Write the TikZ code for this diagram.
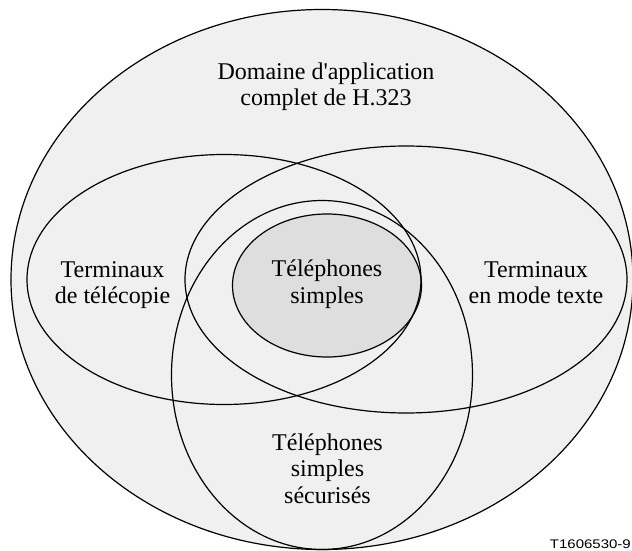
\documentclass[tikz,border=0pt]{standalone}
\usepackage{fontspec}
\setmainfont{Liberation Serif}
\newfontfamily\codefont{Liberation Sans}
\newcommand\stk[1]{\begin{tabular}[t]{@{}c@{}}#1\end{tabular}}
\definecolor{outerfill}{HTML}{F0F0F0}
\definecolor{innerfill}{HTML}{DEDEDE}
\begin{document}
\begin{tikzpicture}[x=1pt,y=-1pt,
  ring/.style={draw=black,line width=1.2pt},
  lbl/.style={font=\fontsize{24}{26.5}\selectfont,anchor=base,inner sep=0pt}]
\useasboundingbox (0,0) rectangle (632,551);
\fill[white] (0,0) rectangle (632,551);
% filled regions
\fill[outerfill] (322,279.5) ellipse [x radius=311pt, y radius=270pt];
\fill[innerfill] (327,285.5) ellipse [x radius=94.5pt, y radius=71.5pt];
% outlines
\draw[ring] (322,279.5) ellipse [x radius=311pt, y radius=270pt];
\draw[ring] (224,279.5) ellipse [x radius=197pt, y radius=125pt];
\draw[ring] (406,279.5) ellipse [x radius=221pt, y radius=133.5pt];
\draw[ring] (322,375) ellipse [x radius=150.5pt, y radius=174.5pt];
\draw[ring] (327,285.5) ellipse [x radius=94.5pt, y radius=71.5pt];
% labels
\node[lbl] (dom) at (326,79.5) {\stk{Domaine d\textquotesingle application\\complet de H.323}};
\node[lbl] (fax) at (112.5,277) {\stk{Terminaux\\de télécopie}};
\node[lbl] (tel) at (327,276.5) {\stk{Téléphones\\simples}};
\node[lbl] (txt) at (536,277) {\stk{Terminaux\\en mode texte}};
\node[lbl] (sec) at (327.5,450) {\stk{Téléphones\\simples\\sécurisés}};
\node[anchor=base east,inner sep=0pt,font=\codefont\fontsize{12.5}{14}\selectfont] (code) at (631,548.3) {\scalebox{1.2}[1]{T1606530-9}};
\end{tikzpicture}
\end{document}
